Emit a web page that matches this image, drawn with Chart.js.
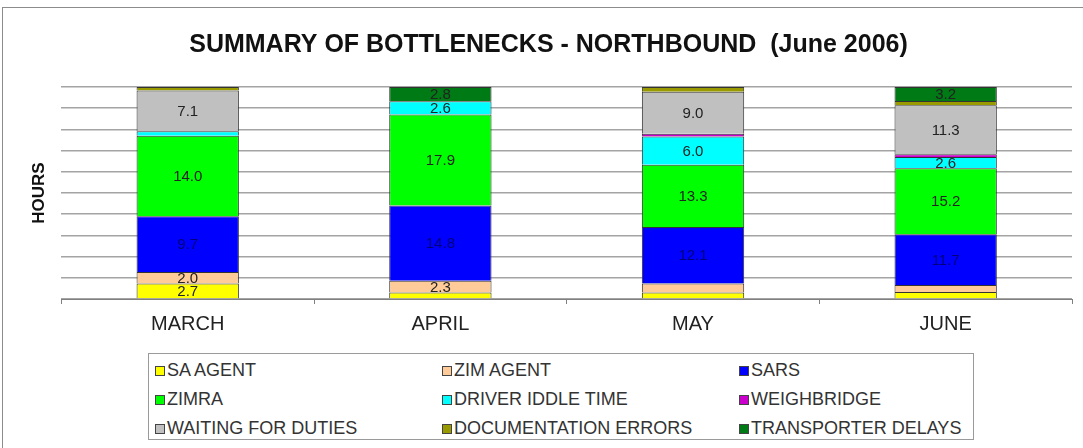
<!DOCTYPE html>
<html>
<head>
<meta charset="utf-8">
<script src="https://cdn.jsdelivr.net/npm/chart.js@4"></script>
<style>
  html, body { margin: 0; padding: 0; background: #fff; }
  body { width: 1083px; height: 448px; position: relative; overflow: hidden; font-family: Arial, "Liberation Sans", sans-serif; }
  #frame { position: absolute; left: 2px; top: 7px; width: 1200px; height: 600px; border: 1px solid #8c8c8c; }
  #wrap { position: absolute; left: 0; top: 0; width: 1083px; height: 448px; }
  #legend {
    position: absolute; left: 148px; top: 353px; width: 826px; height: 87px;
    border: 1px solid #9a9a9a; background: #fff;
    display: grid; grid-template-columns: 287px 297px 240px; grid-auto-rows: 29px;
    padding-top: 2px; box-sizing: border-box;
  }
  .item { display: flex; align-items: center; font-size: 18px; color: #333; padding-left: 6px; white-space: nowrap; }
  .box { width: 8px; height: 8px; border: 1px solid #444; margin-right: 2px; flex: none; }
</style>
</head>
<body>
<div id="frame"></div>
<div id="wrap"><canvas id="myChart" width="1083" height="448"></canvas></div>
<div id="legend"></div>
<script>
const months = ["MARCH", "APRIL", "MAY", "JUNE"];

// hours per bottleneck, per month
const saAgent     = [2.7, 1.3, 1.4, 1.6];
const zimAgent    = [2.0, 2.3, 1.9, 1.6];
const sars        = [9.7, 14.8, 12.1, 11.7];
const zimra       = [14.0, 17.9, 13.3, 15.2];
const driverIdle  = [0.8, 2.6, 6.0, 2.6];
const weighbridge = [0, 0, 0.6, 0.6];
const waiting     = [7.1, 0, 9.0, 11.3];
const docErrors   = [0.6, 0, 1.0, 1.0];
const transporter = [0, 2.8, 0, 3.2];

const seriesNames = ["SA AGENT", "ZIM AGENT", "SARS", "ZIMRA", "DRIVER IDDLE TIME",
  "WEIGHBRIDGE", "WAITING FOR DUTIES", "DOCUMENTATION ERRORS", "TRANSPORTER DELAYS"];
const seriesData = [saAgent, zimAgent, sars, zimra, driverIdle, weighbridge, waiting, docErrors, transporter];
const seriesColors = ["#FFFF00", "#FFCC99", "#0000FF", "#00FF00", "#00FFFF",
  "#CC00CC", "#C0C0C0", "#999900", "#007A14"];

// 100% stacked: each month scaled to its total
const totals = months.map((m, i) => seriesData.reduce((s, d) => s + d[i], 0));

const datasets = seriesNames.map((name, k) => ({
  label: name,
  data: seriesData[k].map((v, i) => v > 0 ? v / totals[i] * 100 : null),
  hours: seriesData[k],
  backgroundColor: seriesColors[k],
  borderColor: "#333",
  borderWidth: 1,
  barPercentage: 0.405,
  categoryPercentage: 1.0
}));

// draw hour values inside segments
const valueLabels = {
  id: "valueLabels",
  afterDatasetsDraw(chart) {
    const ctx = chart.ctx;
    ctx.save();
    ctx.font = "15px Arial, 'Liberation Sans', sans-serif";
    ctx.textAlign = "center";
    ctx.textBaseline = "middle";
    chart.data.datasets.forEach((ds, k) => {
      const meta = chart.getDatasetMeta(k);
      meta.data.forEach((bar, i) => {
        const h = ds.hours[i];
        if (h < 2) return;
        const p = bar.getProps(["x", "y", "base"], true);
        ctx.fillStyle = k === 2 ? "#00007a" : "#222";
        ctx.fillText(h.toFixed(1), p.x, (p.y + p.base) / 2 + 1);
      });
    });
    ctx.restore();
  }
};

const ctx = document.getElementById("myChart").getContext("2d");
const myChart = new Chart(ctx, {
  type: "bar",
  data: { labels: months, datasets: datasets },
  options: {
    responsive: false,
    animation: false,
    layout: { padding: { left: 25, right: 11, top: 10, bottom: 104 } },
    plugins: {
      legend: { display: false },
      tooltip: { enabled: false },
      title: {
        display: true,
        text: "SUMMARY OF BOTTLENECKS - NORTHBOUND  (June 2006)",
        color: "#111",
        font: { family: "Arial, 'Liberation Sans', sans-serif", size: 25, weight: "bold" },
        padding: { top: 20, bottom: 27 }
      }
    },
    scales: {
      x: {
        stacked: true,
        grid: { display: true, drawOnChartArea: false, drawTicks: true, tickLength: 5, offset: true, color: "#808080" },
        border: { display: true, color: "#808080", width: 1 },
        ticks: { color: "#222", padding: 8, font: { family: "Arial, 'Liberation Sans', sans-serif", size: 20 } }
      },
      y: {
        stacked: true,
        min: 0,
        max: 100,
        ticks: { display: false, stepSize: 10 },
        grid: { color: "#a4a4a4", lineWidth: 1.5, drawTicks: false },
        border: { display: false },
        title: {
          display: true,
          text: "HOURS",
          color: "#111",
          font: { family: "Arial, 'Liberation Sans', sans-serif", size: 17, weight: "bold" },
          padding: { top: 4, bottom: 12 }
        }
      }
    }
  },
  plugins: [valueLabels]
});

// legend in three columns, like the original
const legendEl = document.getElementById("legend");
myChart.data.datasets.forEach((ds) => {
  const item = document.createElement("div");
  item.className = "item";
  const box = document.createElement("span");
  box.className = "box";
  box.style.background = ds.backgroundColor;
  item.appendChild(box);
  item.appendChild(document.createTextNode(ds.label));
  legendEl.appendChild(item);
});
</script>
</body>
</html>
